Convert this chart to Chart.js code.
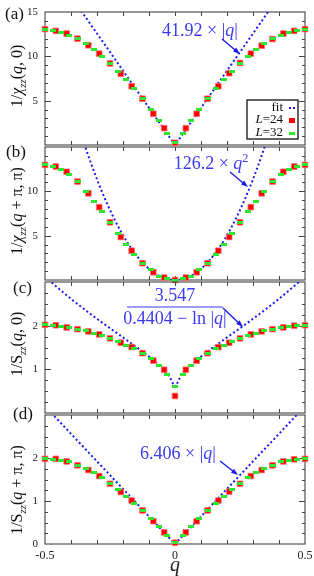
<!DOCTYPE html>
<html>
<head>
<meta charset="utf-8">
<script src="https://cdn.jsdelivr.net/npm/chart.js@4.4.1/dist/chart.umd.min.js"></script>
<style>
  html, body { margin: 0; padding: 0; background: #fff; }
  #wrap { position: relative; width: 314px; height: 576px; overflow: hidden; }
  #wrap canvas { position: absolute; left: 0; top: 0; }
</style>
</head>
<body>
<div id="wrap">
  <canvas id="panelA" width="314" height="576"></canvas>
  <canvas id="panelB" width="314" height="576"></canvas>
  <canvas id="panelC" width="314" height="576"></canvas>
  <canvas id="panelD" width="314" height="576"></canvas>
</div>
<script>
// momentum grids for the two system sizes
const q24 = [-0.5, -0.4583, -0.4167, -0.375, -0.3333, -0.2917, -0.25, -0.2083, -0.1667, -0.125, -0.0833, -0.0417, 0,
             0.0417, 0.0833, 0.125, 0.1667, 0.2083, 0.25, 0.2917, 0.3333, 0.375, 0.4167, 0.4583, 0.5];
const q32 = [-0.5, -0.4688, -0.4375, -0.4063, -0.375, -0.3438, -0.3125, -0.2813, -0.25, -0.2188, -0.1875, -0.1563,
             -0.125, -0.0938, -0.0625, -0.0313, 0, 0.0313, 0.0625, 0.0938, 0.125, 0.1563, 0.1875, 0.2188, 0.25,
             0.2813, 0.3125, 0.3438, 0.375, 0.4063, 0.4375, 0.4688, 0.5];

// (a) 1/chi_zz(q,0)
const chiA24 = [13.07, 12.87, 12.57, 12.0, 11.25, 10.3, 9.2, 8.03, 6.63, 5.22, 3.52, 1.9, 0.25,
                1.9, 3.52, 5.22, 6.63, 8.1, 9.25, 10.3, 11.2, 11.95, 12.57, 12.87, 13.07];
const chiA32 = [13.07, 12.95, 12.7, 12.38, 12.0, 11.43, 10.8, 10.0, 9.2, 8.33, 7.38, 6.33, 5.22, 4.05, 2.73, 1.25, 0.25,
                1.25, 2.73, 4.05, 5.22, 6.33, 7.38, 8.33, 9.2, 10.0, 10.8, 11.43, 12.0, 12.38, 12.7, 12.95, 13.07];
// (b) 1/chi_zz(q+pi,pi)
const chiB24 = [12.98, 12.8, 12.2, 11.1, 9.77, 8.22, 6.51, 4.85, 3.3, 1.89, 0.87, 0.27, 0.0,
                0.27, 0.87, 1.89, 3.3, 4.85, 6.51, 8.22, 9.77, 11.1, 12.2, 12.8, 12.98];
const chiB32 = [12.98, 12.76, 12.42, 11.93, 11.1, 10.0, 8.9, 7.76, 6.51, 5.19, 3.98, 2.84, 1.89, 1.14, 0.45, 0.12, 0.0,
                0.12, 0.45, 1.14, 1.89, 2.84, 3.98, 5.19, 6.51, 7.76, 8.9, 10.0, 11.1, 11.93, 12.42, 12.76, 12.98];
// (c) 1/S_zz(q,0)
const sC24 = [2.02, 2.01, 1.96, 1.92, 1.87, 1.80, 1.71, 1.61, 1.51, 1.37, 1.2, 0.99, 0.39,
              0.99, 1.2, 1.37, 1.51, 1.61, 1.71, 1.80, 1.87, 1.92, 1.96, 2.0, 2.01];
const sC32 = [2.02, 2.0, 1.98, 1.95, 1.92, 1.88, 1.83, 1.77, 1.71, 1.63, 1.55, 1.47, 1.37, 1.25, 1.09, 0.89, 0.6,
              0.89, 1.09, 1.25, 1.37, 1.47, 1.55, 1.63, 1.71, 1.77, 1.83, 1.88, 1.92, 1.95, 1.98, 2.0, 2.01];
// (d) 1/S_zz(q+pi,pi)
const sD24 = [1.98, 1.98, 1.92, 1.83, 1.72, 1.58, 1.40, 1.21, 1.01, 0.78, 0.53, 0.27, 0.03,
              0.27, 0.53, 0.78, 1.01, 1.22, 1.40, 1.58, 1.72, 1.83, 1.92, 1.97, 1.98];
const sD32 = [1.98, 1.96, 1.95, 1.91, 1.83, 1.75, 1.66, 1.54, 1.40, 1.26, 1.11, 0.95, 0.78, 0.59, 0.40, 0.19, 0.03,
              0.19, 0.40, 0.59, 0.78, 0.95, 1.11, 1.26, 1.40, 1.54, 1.66, 1.75, 1.83, 1.91, 1.95, 1.96, 1.98];

// fit coefficients as printed on the panels
const fitA = 41.92;
const fitB = 126.2;
const fitC = [3.547, 0.4404];
const fitD = 6.406;

const xTicks = [-0.5, 0, 0.5];

const BLUE = '#1c1ce8';
const TXT_BLUE = '#3a3af0';
const FRAME = '#444';
const SERIF = '"Liberation Serif", "DejaVu Serif", serif';

// green marks are short horizontal dashes
const greenDash = document.createElement('canvas');
greenDash.width = 6; greenDash.height = 3;
(function () {
    const g = greenDash.getContext('2d');
    g.fillStyle = '#2fe62f';
    g.fillRect(0, 0, 6, 3);
})();

function pts(xs, ys) { return xs.map((x, i) => ({ x: x, y: ys[i] })); }

function fitPts(f, skipZero) {
    const out = [];
    for (let i = -100; i <= 100; i++) {
        if (skipZero && i === 0) continue;
        out.push({ x: i / 200, y: f(i / 200) });
    }
    return out;
}

// text with italic / sub / sup pieces: [text, flags]
function font(flags, size) {
    const s = (flags.includes('s') || flags.includes('u')) ? size * 0.68 : size;
    return (flags.includes('i') ? 'italic ' : '') + s.toFixed(1) + 'px ' + SERIF;
}
function drawRich(ctx, parts, x, y, size, align) {
    let total = 0;
    parts.forEach(p => { ctx.font = font(p[1], size); total += ctx.measureText(p[0]).width; });
    let cx = align === 'center' ? x - total / 2 : (align === 'right' ? x - total : x);
    ctx.textAlign = 'left';
    parts.forEach(p => {
        ctx.font = font(p[1], size);
        const dy = p[1].includes('s') ? size * 0.28 : (p[1].includes('u') ? -size * 0.4 : 0);
        ctx.fillText(p[0], cx, y + dy);
        cx += ctx.measureText(p[0]).width;
    });
}

function arrow(ctx, x1, y1, x2, y2) {
    const a = Math.atan2(y2 - y1, x2 - x1);
    ctx.strokeStyle = BLUE; ctx.fillStyle = BLUE; ctx.lineWidth = 1.4;
    ctx.beginPath(); ctx.moveTo(x1, y1); ctx.lineTo(x2 - 4 * Math.cos(a), y2 - 4 * Math.sin(a)); ctx.stroke();
    ctx.beginPath();
    ctx.moveTo(x2, y2);
    ctx.lineTo(x2 - 7 * Math.cos(a) + 2.5 * Math.sin(a), y2 - 7 * Math.sin(a) - 2.5 * Math.cos(a));
    ctx.lineTo(x2 - 7 * Math.cos(a) - 2.5 * Math.sin(a), y2 - 7 * Math.sin(a) + 2.5 * Math.cos(a));
    ctx.closePath(); ctx.fill();
}

const panels = [
    {
        id: 'panelA', top: 12, bottom: 145, ymax: 15, major: 5, minor: 1, yLabels: [5, 10, 15],
        red: chiA24, green: chiA32, fit: fitPts(q => fitA * Math.abs(q)),
        tag: '(a)', tagPos: [5, 15], titleY: 76,
        title: [['1/', ''], ['χ', 'i'], ['zz', 'is'], ['(', ''], ['q', 'i'], [', 0)', '']],
        extra(ctx) {
            ctx.fillStyle = TXT_BLUE; ctx.textBaseline = 'alphabetic';
            drawRich(ctx, [['41.92 × |', ''], ['q', 'i'], ['|', '']], 200, 36, 18, 'center');
            arrow(ctx, 222, 39, 240, 54);
            // legend
            ctx.fillStyle = '#fff'; ctx.fillRect(247, 100, 51, 39);
            ctx.strokeStyle = '#222'; ctx.lineWidth = 1.4; ctx.strokeRect(247, 100, 51, 39);
            ctx.fillStyle = '#111'; ctx.textBaseline = 'middle';
            drawRich(ctx, [['fit', '']], 283, 108, 13, 'right');
            drawRich(ctx, [['L', 'i'], ['=24', '']], 283, 120, 13, 'right');
            drawRich(ctx, [['L', 'i'], ['=32', '']], 283, 133, 13, 'right');
            ctx.fillStyle = BLUE; ctx.fillRect(289, 107, 2, 2); ctx.fillRect(293, 107, 2, 2);
            ctx.fillStyle = '#ff0000'; ctx.fillRect(289, 118, 6, 5);
            ctx.drawImage(greenDash, 289, 132);
        }
    },
    {
        id: 'panelB', top: 147, bottom: 280, ymax: 15, major: 5, minor: 1, yLabels: [5, 10],
        red: chiB24, green: chiB32, fit: fitPts(q => fitB * q * q),
        tag: '(b)', tagPos: [6, 153], titleY: 211,
        title: [['1/', ''], ['χ', 'i'], ['zz', 'is'], ['(', ''], ['q', 'i'], [' + π, π)', '']],
        extra(ctx) {
            ctx.fillStyle = TXT_BLUE; ctx.textBaseline = 'alphabetic';
            drawRich(ctx, [['126.2 × ', ''], ['q', 'i'], ['2', 'u']], 211, 169, 18, 'center');
            arrow(ctx, 230, 172, 248, 187);
        }
    },
    {
        id: 'panelC', top: 282, bottom: 413, ymax: 3, major: 1, minor: 0.25, yLabels: [1, 2],
        red: sC24, green: sC32, fit: fitPts(q => fitC[0] / (fitC[1] - Math.log(Math.abs(q))), true),
        tag: '(c)', tagPos: [13, 289], titleY: 344,
        title: [['1/S', ''], ['zz', 'is'], ['(', ''], ['q', 'i'], [', 0)', '']],
        extra(ctx) {
            ctx.fillStyle = TXT_BLUE; ctx.textBaseline = 'alphabetic';
            drawRich(ctx, [['3.547', '']], 175, 301, 18, 'center');
            drawRich(ctx, [['0.4404 − ln |', ''], ['q', 'i'], ['|', '']], 175, 324, 18, 'center');
            ctx.strokeStyle = TXT_BLUE; ctx.lineWidth = 1.2;
            ctx.beginPath(); ctx.moveTo(127, 307); ctx.lineTo(223, 307); ctx.stroke();
            arrow(ctx, 223, 308, 243, 327);
        }
    },
    {
        id: 'panelD', top: 415, bottom: 544, ymax: 3, major: 1, minor: 0.25, yLabels: [0, 1, 2],
        red: sD24, green: sD32, fit: fitPts(q => fitD * Math.abs(q)),
        tag: '(d)', tagPos: [13, 415], titleY: 490, xAxis: true,
        title: [['1/S', ''], ['zz', 'is'], ['(', ''], ['q', 'i'], [' + π, π)', '']],
        extra(ctx) {
            ctx.fillStyle = TXT_BLUE; ctx.textBaseline = 'alphabetic';
            drawRich(ctx, [['6.406 × |', ''], ['q', 'i'], ['|', '']], 178, 459, 18, 'center');
            arrow(ctx, 220, 461, 238, 475);
        }
    }
];

function decoPlugin(p) {
    return {
        id: 'deco',
        beforeDatasetsDraw(chart) {
            const ctx = chart.ctx, a = chart.chartArea;
            const xs = chart.scales.x, ys = chart.scales.y;
            ctx.save();
            ctx.strokeStyle = FRAME; ctx.lineWidth = 1.1;
            ctx.strokeRect(a.left, a.top, a.right - a.left, a.bottom - a.top);
            ctx.lineWidth = 1;
            ctx.beginPath();
            for (let i = -4; i <= 4; i++) {
                const x = Math.round(xs.getPixelForValue(i / 10)) + 0.5;
                ctx.moveTo(x, a.top); ctx.lineTo(x, a.top + 4);
                ctx.moveTo(x, a.bottom); ctx.lineTo(x, a.bottom - 4);
            }
            const n = Math.round(p.ymax / p.minor);
            for (let k = 1; k < n; k++) {
                const v = k * p.minor;
                const y = Math.round(ys.getPixelForValue(v)) + 0.5;
                const len = Math.abs(v / p.major - Math.round(v / p.major)) < 1e-6 ? 6 : 3;
                ctx.moveTo(a.left, y); ctx.lineTo(a.left + len, y);
                ctx.moveTo(a.right, y); ctx.lineTo(a.right - len, y);
            }
            ctx.stroke();
            ctx.restore();
        },
        afterDraw(chart) {
            const ctx = chart.ctx;
            const xs = chart.scales.x, ys = chart.scales.y;
            ctx.save();
            // y tick labels
            ctx.fillStyle = '#222'; ctx.font = '11px ' + SERIF;
            ctx.textAlign = 'right'; ctx.textBaseline = 'middle';
            p.yLabels.forEach(v => ctx.fillText(String(v), 38, ys.getPixelForValue(v)));
            // x tick labels and title on the bottom panel
            if (p.xAxis) {
                ctx.textAlign = 'center'; ctx.font = '12px ' + SERIF;
                xTicks.forEach(v => ctx.fillText(String(v), xs.getPixelForValue(v), 556));
                ctx.font = 'italic 20px ' + SERIF;
                ctx.fillText('q', xs.getPixelForValue(0), 566);
            }
            // panel tag
            ctx.fillStyle = '#111'; ctx.font = '17px ' + SERIF;
            ctx.textAlign = 'left'; ctx.textBaseline = 'middle';
            ctx.fillText(p.tag, p.tagPos[0], p.tagPos[1]);
            // rotated y title
            ctx.save();
            ctx.translate(22, p.titleY);
            ctx.rotate(-Math.PI / 2);
            ctx.fillStyle = '#111'; ctx.textBaseline = 'alphabetic';
            drawRich(ctx, p.title, 0, 0, 16, 'center');
            ctx.restore();
            p.extra(ctx);
            ctx.restore();
        }
    };
}

document.addEventListener('DOMContentLoaded', () => {
    panels.forEach(p => {
        new Chart(document.getElementById(p.id), {
            type: 'scatter',
            data: {
                datasets: [
                    { label: 'L=32', data: pts(q32, p.green), pointStyle: greenDash, pointRadius: 3, clip: false, order: 0 },
                    { label: 'L=24', data: pts(q24, p.red), pointStyle: 'rect', pointRadius: 4,
                      backgroundColor: '#ff0000', borderColor: 'rgba(255,110,110,0.8)', borderWidth: 1, clip: false, order: 1 },
                    { label: 'fit', data: p.fit, showLine: true, pointRadius: 0, borderColor: BLUE,
                      borderWidth: 2, borderDash: [2, 2.5], borderCapStyle: 'butt', order: 2 }
                ]
            },
            options: {
                responsive: false,
                animation: false,
                events: [],
                layout: { padding: { left: 45, right: 9, top: p.top, bottom: 576 - p.bottom } },
                scales: {
                    x: { type: 'linear', min: -0.5, max: 0.5, display: false },
                    y: { type: 'linear', min: 0, max: p.ymax, display: false }
                },
                plugins: { legend: { display: false }, tooltip: { enabled: false } }
            },
            plugins: [decoPlugin(p)]
        });
    });
});
</script>
</body>
</html>
